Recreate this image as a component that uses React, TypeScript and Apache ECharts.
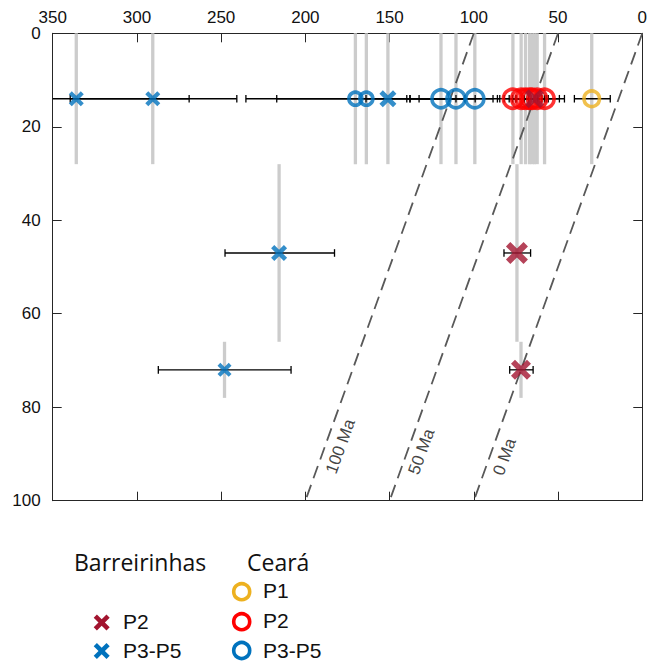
import React, { useEffect, useRef } from "react";
import * as echarts from "echarts";

// ---------- data ----------
// Barreirinhas P3-P5 (blue crosses)
const barrP35Age = [336, 290.6, 151, 215.6, 248];
const barrP35Depth = [14, 14, 14, 47, 72];
const barrP35AgeErrA = [403, 339.6, 164, 247.7, 287.3];
const barrP35AgeErrB = [269, 240.7, 138, 182.7, 208.5];
const barrP35DepthTop = [0, 0, 0, 28, 66];
const barrP35DepthBot = [28, 28, 28, 66, 78];
const barrP35Size = [15, 15, 17, 16, 14];

// Barreirinhas P2 (dark red crosses)
const barrP2Age = [64, 74.4, 72];
const barrP2Depth = [14, 47, 72];
const barrP2AgeErrA = [70, 82.1, 78.7];
const barrP2AgeErrB = [58, 66.3, 64.8];
const barrP2DepthTop = [0, 28, 66];
const barrP2DepthBot = [28, 66, 78];
const barrP2Size = [19, 22, 20];

// Ceará P1 (yellow circles)
const ceP1Age = [30];
const ceP1Depth = [14];
const ceP1AgeErrA = [40.3];
const ceP1AgeErrB = [19];
const ceP1DepthTop = [0];
const ceP1DepthBot = [28];
const ceP1Size = [15.5];

// Ceará P2 (red circles)
const ceP2Age = [76.8, 71.9, 69.3, 66.9, 65.4, 62.4, 58];
const ceP2Depth = [14, 14, 14, 14, 14, 14, 14];
const ceP2AgeErrA = [86, 82, 79, 77, 75, 75, 70];
const ceP2AgeErrB = [67.6, 62, 59.6, 57, 55.8, 49.2, 46.2];
const ceP2DepthTop = [0, 0, 0, 0, 0, 0, 0];
const ceP2DepthBot = [28, 28, 28, 28, 28, 28, 28];
const ceP2Size = [19, 19, 19, 19, 19, 19, 19];

// Ceará P3-P5 (blue circles)
const ceP35Age = [170.3, 163.8, 119.5, 110.6, 99.4];
const ceP35Depth = [14, 14, 14, 14, 14];
const ceP35AgeErrA = [235.3, 217, 139.8, 137.8, 132.5];
const ceP35AgeErrB = [105.3, 110.6, 99.2, 84.6, 88.6];
const ceP35DepthTop = [0, 0, 0, 0, 0];
const ceP35DepthBot = [28, 28, 28, 28, 28];
const ceP35Size = [13, 13, 18, 18, 18];

// reference isochrons (x at depth 0, x at depth 100)
const isoNames = ["100 Ma", "50 Ma", "0 Ma"];
const isoTop = [100, 50, 0];
const isoBottom = [200, 150, 100];
const isoLabelAt = [
  [179.2, 88.4],
  [131.1, 89.5],
  [81.7, 90.6],
];

const xTickInterval = 50;
const yTickInterval = 20;

// ---------- styles ----------
const BLUE = "#0072BD";
const RED = "#FF0000";
const DARKRED = "#A2142F";
const YELLOW = "#EDB120";
const AXIS = "#262626";
const SANS = "'Liberation Sans', Arial, Helvetica, sans-serif";
const HEAD = "'Open Sans', 'Noto Sans', sans-serif";
const CROSS = "path://M0,2 L2,0 L5,3 L8,0 L10,2 L7,5 L10,8 L8,10 L5,7 L2,10 L0,8 L3,5 Z";

type Group = {
  age: number[];
  depth: number[];
  errA: number[];
  errB: number[];
  top: number[];
  bot: number[];
  size: number[];
};

const groups: Record<string, Group> = {
  ceP35: { age: ceP35Age, depth: ceP35Depth, errA: ceP35AgeErrA, errB: ceP35AgeErrB, top: ceP35DepthTop, bot: ceP35DepthBot, size: ceP35Size },
  ceP2: { age: ceP2Age, depth: ceP2Depth, errA: ceP2AgeErrA, errB: ceP2AgeErrB, top: ceP2DepthTop, bot: ceP2DepthBot, size: ceP2Size },
  ceP1: { age: ceP1Age, depth: ceP1Depth, errA: ceP1AgeErrA, errB: ceP1AgeErrB, top: ceP1DepthTop, bot: ceP1DepthBot, size: ceP1Size },
  barrP35: { age: barrP35Age, depth: barrP35Depth, errA: barrP35AgeErrA, errB: barrP35AgeErrB, top: barrP35DepthTop, bot: barrP35DepthBot, size: barrP35Size },
  barrP2: { age: barrP2Age, depth: barrP2Depth, errA: barrP2AgeErrA, errB: barrP2AgeErrB, top: barrP2DepthTop, bot: barrP2DepthBot, size: barrP2Size },
};

function crossPoints(cx: number, cy: number, s: number) {
  const base = [
    [0, 2], [2, 0], [5, 3], [8, 0], [10, 2], [7, 5],
    [10, 8], [8, 10], [5, 7], [2, 10], [0, 8], [3, 5],
  ];
  return base.map(([px, py]) => [cx + ((px - 5) * s) / 10, cy + ((py - 5) * s) / 10]);
}

export default function App() {
  const ref = useRef<HTMLDivElement>(null);

  useEffect(() => {
    if (!ref.current) return;
    const chart = echarts.init(ref.current, undefined, { renderer: "svg" });

    const keys = Object.keys(groups);
    const grayData: number[][] = [];
    const errData: number[][] = [];
    keys.forEach((k) => {
      const g = groups[k];
      g.age.forEach((a, i) => {
        grayData.push([a, g.top[i], g.bot[i]]);
        errData.push([g.errA[i], g.errB[i], g.depth[i]]);
      });
    });

    const markerSeries = (k: string, symbol: string, color: string, hollow: boolean) => {
      const g = groups[k];
      return {
        type: "scatter",
        data: g.age.map((a, i) => [a, g.depth[i]]),
        symbol,
        symbolSize: (_v: any, p: any) => g.size[p.dataIndex],
        itemStyle: hollow
          ? { color: "rgba(0,0,0,0)", borderColor: color, borderWidth: 3.6 }
          : { color, borderWidth: 0 },
        silent: true,
        z: 5,
      };
    };

    const axisCommon = {
      type: "value",
      inverse: true,
      axisLine: { show: true, onZero: false, lineStyle: { color: AXIS, width: 1 } },
      axisTick: { show: true, inside: true, length: 9, lineStyle: { color: AXIS } },
      splitLine: { show: false },
    };

    const option: any = {
      animation: false,
      textStyle: { fontFamily: SANS },
      grid: { left: 52.7, right: 5.1, top: 33.3, bottom: 164.3, containLabel: false },
      xAxis: [
        {
          ...axisCommon,
          position: "top",
          min: 0,
          max: 350,
          interval: xTickInterval,
          axisLabel: { fontSize: 17, color: "#111", margin: 7, fontFamily: SANS },
        },
        {
          ...axisCommon,
          position: "bottom",
          min: 0,
          max: 350,
          interval: xTickInterval,
          axisLabel: { show: false },
        },
      ],
      yAxis: [
        {
          ...axisCommon,
          position: "left",
          min: 0,
          max: 100,
          interval: yTickInterval,
          axisLabel: { fontSize: 17, color: "#111", margin: 12, fontFamily: SANS },
        },
        {
          ...axisCommon,
          position: "right",
          min: 0,
          max: 100,
          interval: yTickInterval,
          axisLabel: { show: false },
        },
      ],
      series: [
        {
          type: "custom",
          data: grayData,
          encode: { x: 0, y: [1, 2] },
          silent: true,
          z: 1,
          renderItem: (_p: any, api: any) => {
            const a = api.coord([api.value(0), api.value(1)]);
            const b = api.coord([api.value(0), api.value(2)]);
            return {
              type: "line",
              shape: { x1: a[0], y1: a[1], x2: b[0], y2: b[1] },
              style: { stroke: "#cccccc", lineWidth: 3.3 },
            };
          },
        },
        ...isoNames.map((_n, i) => ({
          type: "line",
          data: [
            [isoTop[i], 0],
            [isoBottom[i], 100],
          ],
          showSymbol: false,
          symbol: "none",
          silent: true,
          z: 2,
          lineStyle: { color: "#595959", width: 1.8, type: [13, 7] },
        })),
        {
          type: "custom",
          data: errData,
          encode: { x: [0, 1], y: 2 },
          silent: true,
          z: 3,
          renderItem: (params: any, api: any) => {
            const cs = params.coordSys;
            const p1 = api.coord([api.value(0), api.value(2)]);
            const p2 = api.coord([api.value(1), api.value(2)]);
            const xmin = cs.x;
            const xmax = cs.x + cs.width;
            const clamp = (v: number) => Math.max(xmin, Math.min(xmax, v));
            const y = p1[1];
            const children: any[] = [
              {
                type: "line",
                shape: { x1: clamp(p1[0]), y1: y, x2: clamp(p2[0]), y2: y },
                style: { stroke: "#000", lineWidth: 1.3 },
              },
            ];
            [p1[0], p2[0]].forEach((x) => {
              if (x >= xmin && x <= xmax) {
                children.push({
                  type: "line",
                  shape: { x1: x, y1: y - 3.8, x2: x, y2: y + 3.8 },
                  style: { stroke: "#000", lineWidth: 1.3 },
                });
              }
            });
            return { type: "group", children };
          },
        },
        {
          type: "scatter",
          data: isoLabelAt,
          symbolSize: 0,
          silent: true,
          z: 4,
          label: {
            show: true,
            position: "inside",
            rotate: 70,
            formatter: (p: any) => isoNames[p.dataIndex],
            fontSize: 17,
            color: "#111",
            fontFamily: SANS,
          },
        },
        markerSeries("ceP35", "circle", BLUE, true),
        markerSeries("ceP2", "circle", RED, true),
        markerSeries("ceP1", "circle", YELLOW, true),
        markerSeries("barrP35", CROSS, BLUE, false),
        markerSeries("barrP2", CROSS, DARKRED, false),
      ],
      graphic: [
        {
          type: "text",
          x: 74,
          y: 562,
          style: { text: "Barreirinhas", fontSize: 23, fontFamily: HEAD, fill: "#111", verticalAlign: "middle" },
        },
        {
          type: "text",
          x: 247,
          y: 562,
          style: { text: "Ceará", fontSize: 23, fontFamily: HEAD, fill: "#111", verticalAlign: "middle" },
        },
        { type: "polygon", shape: { points: crossPoints(101.7, 622.5, 16) }, style: { fill: DARKRED } },
        { type: "polygon", shape: { points: crossPoints(101.7, 651, 16) }, style: { fill: BLUE } },
        { type: "text", x: 123, y: 621.5, style: { text: "P2", fontSize: 21, fontFamily: SANS, fill: "#111", verticalAlign: "middle" } },
        { type: "text", x: 123, y: 650.5, style: { text: "P3-P5", fontSize: 21, fontFamily: SANS, fill: "#111", verticalAlign: "middle" } },
        { type: "circle", shape: { cx: 241.7, cy: 591.7, r: 8 }, style: { fill: "none", stroke: YELLOW, lineWidth: 3.6 } },
        { type: "circle", shape: { cx: 241.7, cy: 621.7, r: 8 }, style: { fill: "none", stroke: RED, lineWidth: 3.6 } },
        { type: "circle", shape: { cx: 241.7, cy: 650.5, r: 8 }, style: { fill: "none", stroke: BLUE, lineWidth: 3.6 } },
        { type: "text", x: 263, y: 590.5, style: { text: "P1", fontSize: 21, fontFamily: SANS, fill: "#111", verticalAlign: "middle" } },
        { type: "text", x: 263, y: 620.5, style: { text: "P2", fontSize: 21, fontFamily: SANS, fill: "#111", verticalAlign: "middle" } },
        { type: "text", x: 263, y: 650, style: { text: "P3-P5", fontSize: 21, fontFamily: SANS, fill: "#111", verticalAlign: "middle" } },
      ],
    };

    chart.setOption(option);
    return () => chart.dispose();
  }, []);

  return (
    <div
      ref={ref}
      style={{ position: "absolute", left: 0, top: 0, width: 650, height: 665, background: "#fff" }}
    />
  );
}
